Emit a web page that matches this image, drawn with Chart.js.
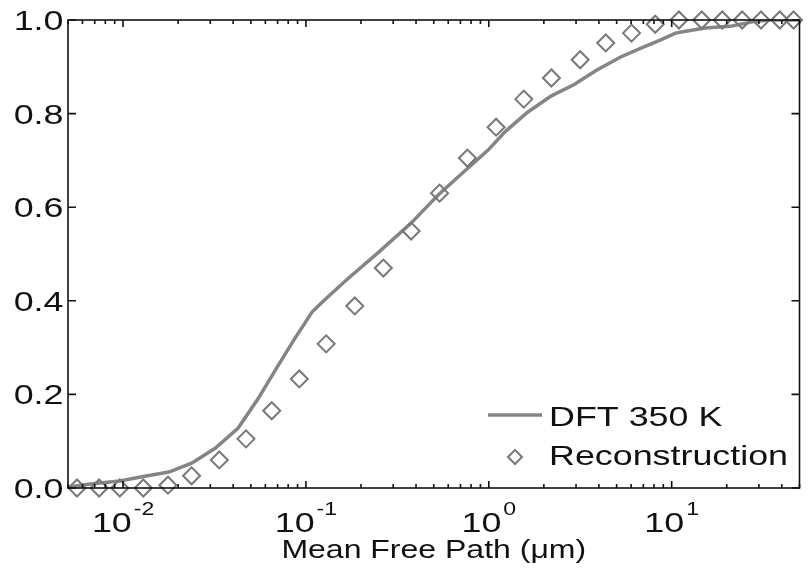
<!DOCTYPE html>
<html>
<head>
<meta charset="utf-8">
<script src="https://cdn.jsdelivr.net/npm/chart.js@4.4.1/dist/chart.umd.min.js"></script>
<style>
html,body{margin:0;padding:0;background:#fff;}
canvas{display:block;}
</style>
</head>
<body>
<canvas id="c" width="810" height="577"></canvas>
<script>
// ---- Data ----
const dftX = [0.005, 0.0068, 0.0096, 0.0127, 0.0178, 0.0237, 0.0319, 0.0426, 0.0546, 0.070, 0.0865, 0.108, 0.1225, 0.167, 0.252, 0.376, 0.532, 0.718, 0.991, 1.225, 1.63, 2.20, 2.93, 3.90, 5.26, 7.00, 8.65, 10.5, 11.9, 15.3, 21.4, 27.5, 34.0, 50];
const dftY = [0.002, 0.009, 0.015, 0.024, 0.034, 0.053, 0.085, 0.128, 0.19, 0.26, 0.318, 0.376, 0.397, 0.445, 0.505, 0.566, 0.627, 0.673, 0.722, 0.761, 0.803, 0.838, 0.862, 0.893, 0.921, 0.942, 0.957, 0.972, 0.976, 0.983, 0.987, 0.996, 1.0, 1.0];

const reconX = [0.0056, 0.0074, 0.0096, 0.0129, 0.0176, 0.0237, 0.0336, 0.047, 0.065, 0.092, 0.129, 0.185, 0.265, 0.376, 0.538, 0.764, 1.096, 1.553, 2.20, 3.16, 4.36, 6.03, 8.13, 10.96, 14.6, 18.9, 24.3, 30.8, 39.0, 46.4];
const reconY = [0.0, 0.0, 0.0, 0.0, 0.006, 0.026, 0.060, 0.105, 0.165, 0.233, 0.308, 0.389, 0.470, 0.549, 0.630, 0.705, 0.771, 0.831, 0.876, 0.915, 0.951, 0.972, 0.991, 1.0, 1.0, 1.0, 1.0, 1.0, 1.0, 1.0];

const xMin = 0.005, xMax = 50;
const xTickExponents = [-2, -1, 0, 1];
const yTicks = [0, 0.2, 0.4, 0.6, 0.8, 1.0];
const yTickLabels = ['0.0', '0.2', '0.4', '0.6', '0.8', '1.0'];
const seriesNames = ['DFT 350 K', 'Reconstruction'];
const xTitle = 'Mean Free Path (\u03bcm)';

// ---- Styling ----
const FONT = '"Liberation Sans", Arial, sans-serif';
const STRETCH = 1.28;
const lineColor = 'rgb(133,133,133)';
const markColor = 'rgb(120,120,120)';

function sText(ctx, txt, x, y, align) {
  const w = ctx.measureText(txt).width * STRETCH;
  const x0 = align === 'left' ? x : (align === 'right' ? x - w : x - w / 2);
  ctx.save();
  ctx.translate(x0, y);
  ctx.scale(STRETCH, 1);
  ctx.textAlign = 'left';
  ctx.fillText(txt, 0, 0);
  ctx.restore();
  return w;
}

const axesPlugin = {
  id: 'matlabAxes',
  afterDraw(chart) {
    const ctx = chart.ctx;
    const xs = chart.scales.x, ys = chart.scales.y;
    const a = chart.chartArea;
    ctx.save();
    ctx.strokeStyle = '#111';
    ctx.lineWidth = 1.6;
    ctx.strokeRect(a.left, a.top, a.right - a.left, a.bottom - a.top);
    // y ticks (inward, both sides)
    ctx.beginPath();
    yTicks.forEach(v => {
      const p = ys.getPixelForValue(v);
      ctx.moveTo(a.left, p); ctx.lineTo(a.left + 8, p);
      ctx.moveTo(a.right, p); ctx.lineTo(a.right - 8, p);
    });
    // x major / minor ticks
    for (let d = -3; d <= 2; d++) {
      for (let m = 1; m <= 9; m++) {
        const v = m * Math.pow(10, d);
        if (v < xMin * 0.999 || v > xMax * 1.001) continue;
        const p = xs.getPixelForValue(v);
        const len = m === 1 ? 7 : 4;
        ctx.moveTo(p, a.bottom); ctx.lineTo(p, a.bottom - len);
        ctx.moveTo(p, a.top); ctx.lineTo(p, a.top + len);
      }
    }
    ctx.stroke();

    // y tick labels
    ctx.fillStyle = '#111';
    ctx.font = '28px ' + FONT;
    ctx.textBaseline = 'alphabetic';
    yTicks.forEach((v, i) => {
      const p = ys.getPixelForValue(v);
      sText(ctx, yTickLabels[i], 63.5, p + 10, 'right');
    });

    // x tick labels: 10^n
    xTickExponents.forEach(e => {
      const p = xs.getPixelForValue(Math.pow(10, e));
      ctx.font = '28px ' + FONT;
      const wb = ctx.measureText('10').width * STRETCH;
      ctx.font = '18px ' + FONT;
      const sup = String(e);
      const wsup = ctx.measureText(sup).width * STRETCH;
      const gap = 2;
      const x0 = p - (wb + gap + wsup) / 2;
      ctx.font = '28px ' + FONT;
      sText(ctx, '10', x0, 532, 'left');
      ctx.font = '18px ' + FONT;
      sText(ctx, sup, x0 + wb + gap, 515, 'left');
    });

    // x title
    ctx.font = '25px ' + FONT;
    sText(ctx, xTitle, (a.left + a.right) / 2, 558, 'center');

    // legend
    ctx.strokeStyle = lineColor;
    ctx.lineWidth = 3.5;
    ctx.beginPath();
    ctx.moveTo(488, 415); ctx.lineTo(542, 415);
    ctx.stroke();
    ctx.strokeStyle = markColor;
    ctx.lineWidth = 2;
    const cx = 515, cy = 457, r = 7;
    ctx.beginPath();
    ctx.moveTo(cx, cy - r); ctx.lineTo(cx + r, cy); ctx.lineTo(cx, cy + r); ctx.lineTo(cx - r, cy); ctx.closePath();
    ctx.stroke();
    ctx.fillStyle = '#111';
    ctx.font = '28px ' + FONT;
    sText(ctx, seriesNames[0], 549, 426, 'left');
    sText(ctx, seriesNames[1], 549, 465, 'left');
    ctx.restore();
  }
};

const dftPts = dftX.map((x, i) => ({x, y: dftY[i]}));
const reconPts = reconX.map((x, i) => ({x, y: reconY[i]}));

new Chart(document.getElementById('c'), {
  type: 'scatter',
  data: {
    datasets: [
      {
        label: seriesNames[0],
        data: dftPts,
        showLine: true,
        borderColor: lineColor,
        borderWidth: 3.5,
        pointRadius: 0,
        tension: 0,
        order: 2
      },
      {
        label: seriesNames[1],
        data: reconPts,
        showLine: false,
        pointStyle: 'rectRot',
        pointRadius: 8.5,
        pointBorderWidth: 2,
        pointBorderColor: markColor,
        pointBackgroundColor: 'rgba(0,0,0,0)',
        borderColor: markColor,
        backgroundColor: 'rgba(0,0,0,0)',
        clip: false,
        order: 1
      }
    ]
  },
  options: {
    responsive: false,
    animation: false,
    events: [],
    layout: { padding: { top: 20, right: 2, left: 0, bottom: 0 } },
    plugins: { legend: { display: false }, tooltip: { enabled: false } },
    scales: {
      x: {
        type: 'logarithmic',
        min: xMin, max: xMax,
        ticks: { display: false },
        grid: { display: false },
        border: { display: false },
        afterFit: s => { s.height = 89; }
      },
      y: {
        type: 'linear',
        min: 0, max: 1,
        ticks: { display: false },
        grid: { display: false },
        border: { display: false },
        afterFit: s => { s.width = 68; }
      }
    }
  },
  plugins: [axesPlugin]
});
</script>
</body>
</html>
